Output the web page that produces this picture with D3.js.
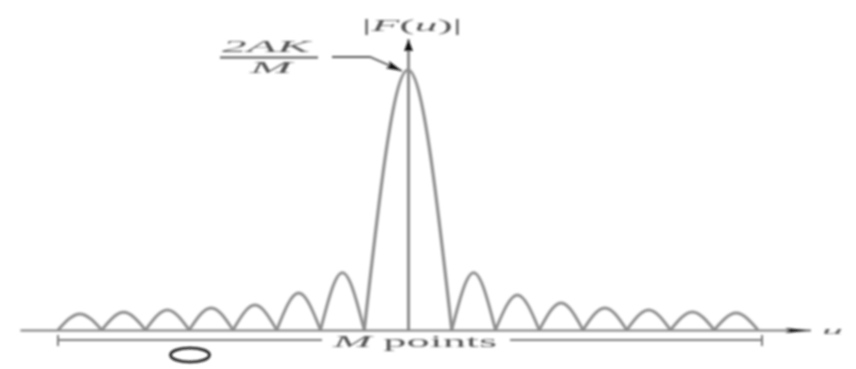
<!DOCTYPE html>
<html>
<head>
<meta charset="utf-8">
<script src="https://cdn.jsdelivr.net/npm/d3@7/dist/d3.min.js"></script>
<style>
  html, body { margin: 0; padding: 0; background: #fff; }
  svg { display: block; }
  text { font-family: "Liberation Serif", "DejaVu Serif", serif; fill: #555; }
</style>
</head>
<body>
<svg id="chart" width="856" height="369"></svg>
<script>
// ---- data ----
// zero crossings of |F(u)| in lobe units (main lobe spans -1..1)
const zeroCrossings = [-8, -7, -6, -5, -4, -3, -2, -1, 1, 2, 3, 4, 5, 6, 7, 8];
// lobe peak heights, relative to the main peak 2AK/M (left to right)
const lobePeaks = [0.062, 0.068, 0.077, 0.085, 0.096, 0.142, 0.22, 1.0, 0.22, 0.135, 0.104, 0.085, 0.077, 0.069, 0.065];
const yLabel = ["|", "F", "(", "u", ")|"];
const xLabel = "u";
const peakNumerator = "2AK";
const peakDenominator = "M";
const spanLabel = ["M", " points"];

// ---- scales ----
const svg = d3.select("#chart");
const x = d3.scaleLinear().domain([-8, 8]).range([58, 758]);
const y = d3.scaleLinear().domain([0, 1]).range([330, 70]);

const defs = svg.append("defs");
defs.append("filter").attr("id", "blur")
  .append("feGaussianBlur").attr("stdDeviation", 1.1);
defs.append("marker").attr("id", "arrH")
  .attr("viewBox", "0 0 26 8").attr("refX", 26).attr("refY", 4)
  .attr("markerWidth", 26).attr("markerHeight", 8)
  .attr("markerUnits", "userSpaceOnUse").attr("orient", "auto")
  .append("path").attr("d", "M0,1.5 L26,4 L0,6.5 L5,4 Z").attr("fill", "#111");
defs.append("marker").attr("id", "arrV")
  .attr("viewBox", "0 0 12 10").attr("refX", 12).attr("refY", 5)
  .attr("markerWidth", 12).attr("markerHeight", 10)
  .attr("markerUnits", "userSpaceOnUse").attr("orient", "auto")
  .append("path").attr("d", "M0,0.5 L12,5 L0,9.5 Z").attr("fill", "#111");
defs.append("marker").attr("id", "arrA")
  .attr("viewBox", "0 0 16 8").attr("refX", 16).attr("refY", 4)
  .attr("markerWidth", 16).attr("markerHeight", 8)
  .attr("markerUnits", "userSpaceOnUse").attr("orient", "auto")
  .append("path").attr("d", "M0,0 L16,4 L0,8 L3,4 Z").attr("fill", "#111");

const g = svg.append("g").attr("filter", "url(#blur)");

// ---- horizontal axis (u) ----
const axisScale = d3.scaleLinear().domain([-8.87, 9.2]).range([x(-8.87), x(9.2)]);
const xAxis = g.append("g").attr("transform", `translate(0,${y(0)})`)
  .call(d3.axisBottom(axisScale).tickValues([]).tickSizeOuter(0));
xAxis.select(".domain").attr("stroke", "#7a7a7a").attr("stroke-width", 2)
  .attr("marker-end", "url(#arrH)");

// ---- vertical axis |F(u)| ----
const yAxis = g.append("g").attr("transform", `translate(${x(0)},0)`)
  .call(d3.axisLeft(d3.scaleLinear().domain([0, 1.12]).range([y(0), y(1.12)]))
    .tickValues([]).tickSizeOuter(0));
yAxis.select(".domain").attr("stroke", "#8a8a8a").attr("stroke-width", 3)
  .attr("marker-end", "url(#arrV)");

// ---- lobes ----
const lobes = lobePeaks.map((p, i) => {
  const a = zeroCrossings[i], b = zeroCrossings[i + 1];
  return [[a, 0], [(a + b) / 2, p], [b, 0]];
});
const line = d3.line().x(d => x(d[0])).y(d => y(d[1])).curve(d3.curveNatural);
g.append("g").selectAll("path").data(lobes).join("path")
  .attr("d", line)
  .attr("fill", "none")
  .attr("stroke", "#8e8e8e")
  .attr("stroke-width", (d, i) => i === 7 ? 3.2 : 3);

// ---- labels ----
function fitText(sel, len) {
  sel.attr("textLength", len).attr("lengthAdjust", "spacingAndGlyphs");
  return sel;
}
const yl = g.append("text").attr("x", 362).attr("y", 31).attr("font-size", 16);
yl.selectAll("tspan").data(yLabel).join("tspan")
  .attr("font-style", (d, i) => (i === 1 || i === 3) ? "italic" : "normal")
  .text(d => d);
fitText(yl, 100);
fitText(g.append("text").attr("x", 822).attr("y", 334)
  .attr("font-size", 11).attr("font-style", "italic").text(xLabel), 21);

// peak annotation 2AK / M
fitText(g.append("text").attr("x", 222).attr("y", 52)
  .attr("font-size", 16).attr("font-style", "italic").text(peakNumerator), 88);
g.append("line").attr("x1", 220).attr("x2", 318).attr("y1", 57.5).attr("y2", 57.5)
  .attr("stroke", "#555").attr("stroke-width", 2);
fitText(g.append("text").attr("x", 250).attr("y", 73)
  .attr("font-size", 16).attr("font-style", "italic").text(peakDenominator), 42);
g.append("path")
  .attr("d", `M332,57 L370,57 L${x(0) - 6},${y(1) + 1}`)
  .attr("fill", "none").attr("stroke", "#555").attr("stroke-width", 1.8)
  .attr("marker-end", "url(#arrA)");

// ---- M points span ----
const spanY = 340;
const span = g.append("g").attr("stroke", "#7a7a7a").attr("stroke-width", 2);
span.append("line").attr("x1", x(-8)).attr("x2", 322).attr("y1", spanY).attr("y2", spanY);
span.append("line").attr("x1", 510).attr("x2", x(8) + 4).attr("y1", spanY).attr("y2", spanY);
span.append("line").attr("x1", x(-8)).attr("x2", x(-8)).attr("y1", spanY - 5).attr("y2", spanY + 6);
span.append("line").attr("x1", x(8) + 4).attr("x2", x(8) + 4).attr("y1", spanY - 5).attr("y2", spanY + 6);
const st = g.append("text").attr("x", 333).attr("y", 347).attr("font-size", 17);
st.append("tspan").attr("font-style", "italic").text(spanLabel[0]);
st.append("tspan").text(spanLabel[1]);
fitText(st, 164);

// small ellipse mark
g.append("ellipse").attr("cx", 190).attr("cy", 355).attr("rx", 19.5).attr("ry", 7)
  .attr("fill", "none").attr("stroke", "#111").attr("stroke-width", 2.6);
</script>
</body>
</html>
